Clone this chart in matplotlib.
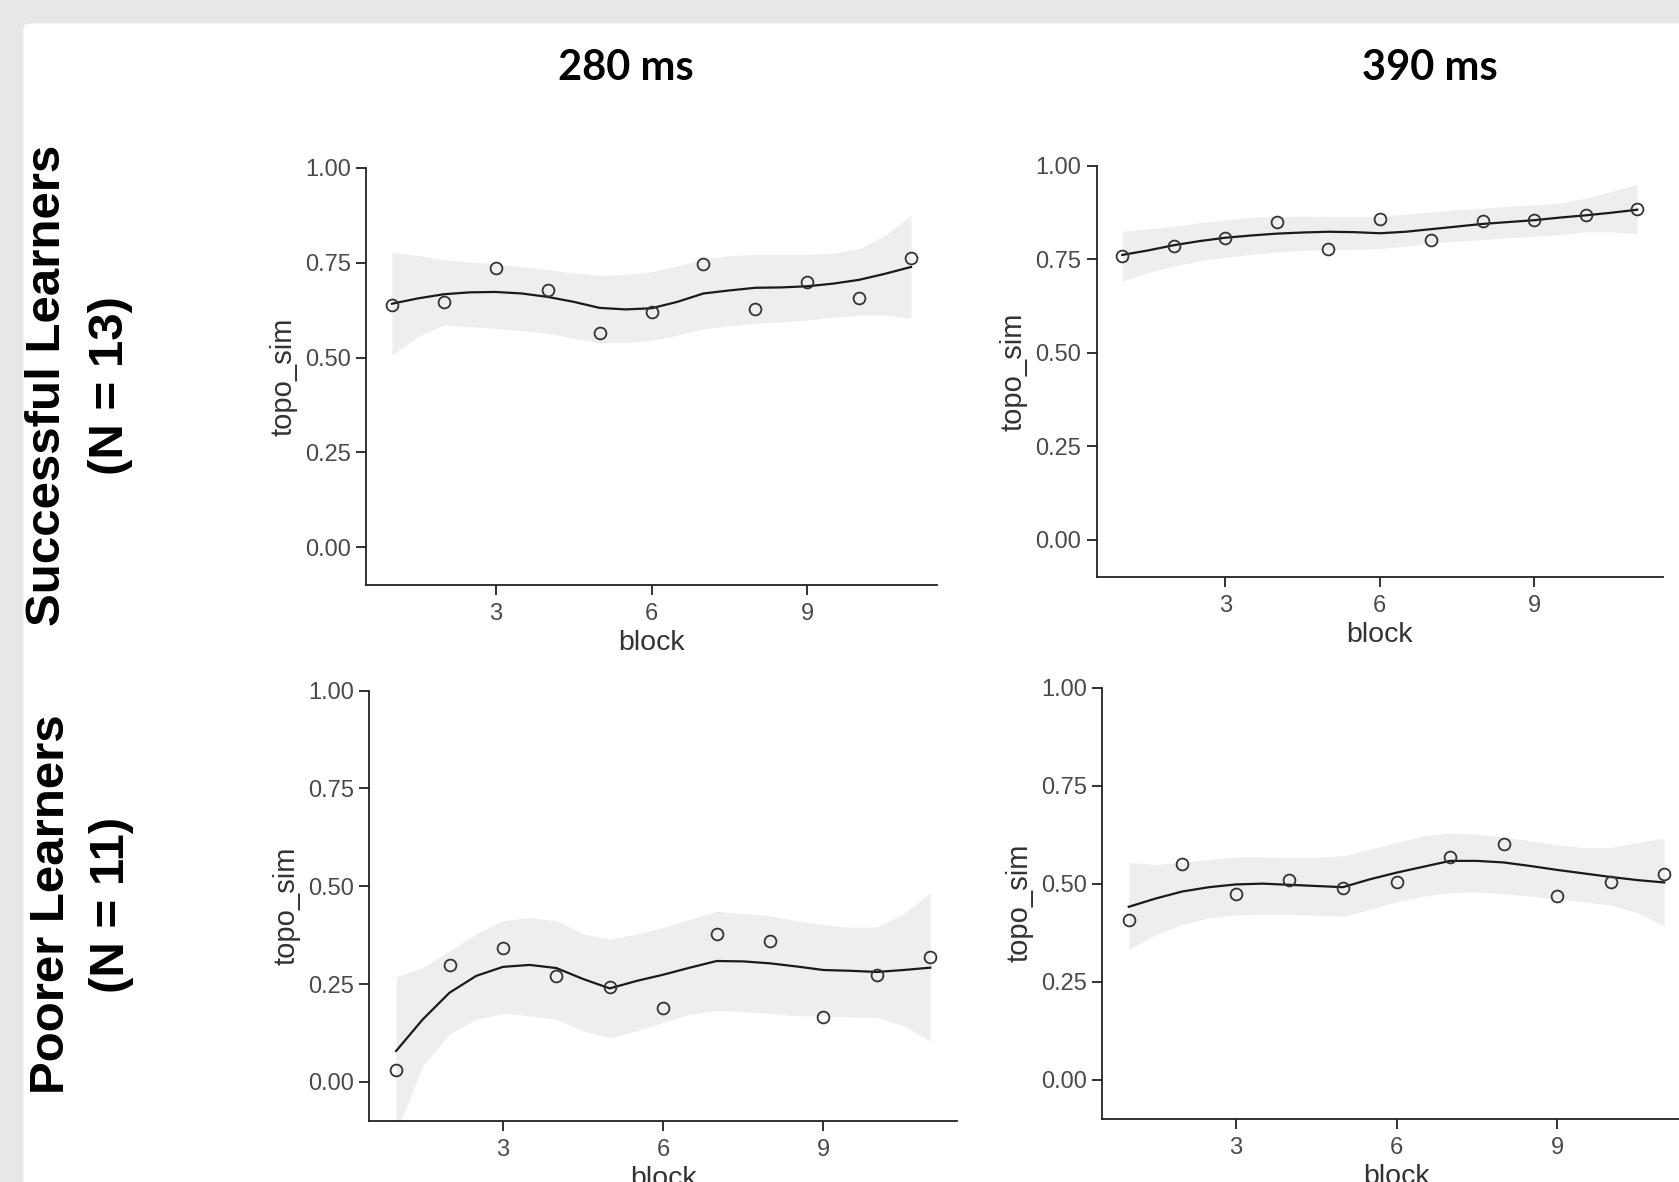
import numpy as np
import matplotlib
matplotlib.use('Agg')
import matplotlib.pyplot as plt
from matplotlib.patches import FancyBboxPatch

W, H = 1679, 1182
OUT_FILE = 'out.png'

blocks = [1, 2, 3, 4, 5, 6, 7, 8, 9, 10, 11]
fit_x = [1, 1.5, 2, 2.5, 3, 3.5, 4, 4.5, 5, 5.5, 6, 6.5, 7, 7.5, 8, 8.5, 9, 9.5, 10, 10.5, 11]

col_titles = ['280 ms', '390 ms']
row_titles = [('Successful Learners', '(N = 13)'), ('Poorer Learners', '(N = 11)')]
y_ticks = [0.0, 0.25, 0.5, 0.75, 1.0]
y_ticklabels = ['0.00', '0.25', '0.50', '0.75', '1.00']
x_ticks = [3, 6, 9]

# successful learners, 280 ms
succ_280_pts = [0.638, 0.646, 0.736, 0.678, 0.565, 0.619, 0.747, 0.628, 0.699, 0.658, 0.763]
succ_280_fit = [0.642, 0.656, 0.667, 0.672, 0.673, 0.669, 0.660, 0.647, 0.631, 0.627, 0.630,
                0.647, 0.669, 0.677, 0.684, 0.685, 0.688, 0.695, 0.705, 0.721, 0.739]
succ_280_hi = [0.778, 0.769, 0.758, 0.752, 0.747, 0.740, 0.732, 0.723, 0.717, 0.719, 0.726,
               0.742, 0.760, 0.769, 0.772, 0.772, 0.772, 0.775, 0.787, 0.822, 0.876]
succ_280_lo = [0.507, 0.555, 0.586, 0.581, 0.577, 0.571, 0.564, 0.551, 0.539, 0.539, 0.545,
               0.559, 0.575, 0.584, 0.590, 0.594, 0.599, 0.606, 0.612, 0.612, 0.603]

# successful learners, 390 ms
succ_390_pts = [0.759, 0.785, 0.806, 0.850, 0.777, 0.858, 0.802, 0.854, 0.855, 0.868, 0.885]
succ_390_fit = [0.762, 0.774, 0.788, 0.799, 0.808, 0.814, 0.819, 0.822, 0.824, 0.823, 0.820,
                0.824, 0.831, 0.838, 0.845, 0.850, 0.855, 0.862, 0.868, 0.875, 0.883]
succ_390_hi = [0.825, 0.832, 0.839, 0.848, 0.856, 0.863, 0.865, 0.866, 0.865, 0.865, 0.865,
               0.871, 0.877, 0.883, 0.887, 0.892, 0.896, 0.901, 0.914, 0.932, 0.951]
succ_390_lo = [0.692, 0.715, 0.732, 0.746, 0.756, 0.763, 0.770, 0.774, 0.777, 0.777, 0.779,
               0.785, 0.794, 0.799, 0.803, 0.808, 0.812, 0.816, 0.824, 0.824, 0.818]

# poorer learners, 280 ms
poor_280_pts = [0.030, 0.298, 0.342, 0.271, 0.243, 0.190, 0.379, 0.359, 0.166, 0.273, 0.318]
poor_280_fit = [0.079, 0.160, 0.228, 0.271, 0.294, 0.299, 0.291, 0.263, 0.239, 0.258, 0.274,
                0.292, 0.309, 0.308, 0.303, 0.295, 0.286, 0.284, 0.281, 0.286, 0.292]
poor_280_hi = [0.269, 0.292, 0.335, 0.378, 0.412, 0.420, 0.412, 0.378, 0.365, 0.378, 0.395,
               0.416, 0.436, 0.430, 0.425, 0.412, 0.402, 0.395, 0.396, 0.429, 0.483]
poor_280_lo = [-0.130, 0.041, 0.122, 0.160, 0.175, 0.169, 0.160, 0.130, 0.113, 0.130, 0.152,
               0.173, 0.182, 0.180, 0.175, 0.169, 0.169, 0.166, 0.165, 0.143, 0.105]

# poorer learners, 390 ms
poor_390_pts = [0.407, 0.549, 0.473, 0.509, 0.488, 0.504, 0.569, 0.601, 0.468, 0.503, 0.524]
poor_390_fit = [0.441, 0.462, 0.480, 0.491, 0.498, 0.500, 0.497, 0.494, 0.491, 0.511, 0.528,
                0.543, 0.558, 0.558, 0.554, 0.545, 0.535, 0.526, 0.517, 0.509, 0.503]
poor_390_hi = [0.554, 0.549, 0.554, 0.562, 0.568, 0.568, 0.567, 0.567, 0.571, 0.588, 0.605,
               0.622, 0.629, 0.626, 0.619, 0.609, 0.599, 0.592, 0.592, 0.605, 0.616]
poor_390_lo = [0.332, 0.370, 0.396, 0.413, 0.420, 0.422, 0.422, 0.419, 0.417, 0.434, 0.454,
               0.468, 0.477, 0.479, 0.474, 0.468, 0.460, 0.454, 0.445, 0.426, 0.392]

# pixel boxes: left, right, top (y = 1.0), bottom (axis line)
panels = [
    ((366, 937, 168, 585), succ_280_pts, succ_280_fit, succ_280_lo, succ_280_hi),
    ((1096.5, 1663, 166, 577), succ_390_pts, succ_390_fit, succ_390_lo, succ_390_hi),
    ((369.4, 957, 690.7, 1121), poor_280_pts, poor_280_fit, poor_280_lo, poor_280_hi),
    ((1102, 1691, 687.5, 1119), poor_390_pts, poor_390_fit, poor_390_lo, poor_390_hi),
]

Y_MIN = -0.1
TEXT_GREY = '#4a4a4a'
BAND = '#eeeeee'

plt.rcParams['font.family'] = ['Liberation Sans', 'DejaVu Sans']

fig = plt.figure(figsize=(W / 100, H / 100), dpi=100, facecolor='#e8e8e8')

# white card on grey page
card = FancyBboxPatch((23.5 / W, -0.05), 1.1, 1 - 23.5 / H + 0.05,
                      boxstyle='round,pad=0,rounding_size=0.004',
                      transform=fig.transFigure, facecolor='white',
                      edgecolor='none', zorder=-10)
fig.patches.append(card)


def add_panel(box, pts, fit, lo, hi):
    left, right, top, bottom = box
    # axes top is y = 1.0, bottom spine sits at Y_MIN
    ax = fig.add_axes([left / W, 1 - bottom / H, (right - left) / W, (bottom - top) / H])
    ax.set_facecolor('none')
    ax.set_xlim(0.5, 11.5)
    ax.set_ylim(Y_MIN, 1.0)

    ax.fill_between(fit_x, lo, hi, color=BAND, linewidth=0, zorder=1)
    ax.plot(fit_x, fit, color='#1a1a1a', lw=1.6, zorder=2)
    ax.plot(blocks, pts, linestyle='none', marker='o', markersize=8.5,
            markerfacecolor='none', markeredgecolor='#333333', markeredgewidth=1.3, zorder=3)

    for side in ['top', 'right']:
        ax.spines[side].set_visible(False)
    for side in ['left', 'bottom']:
        ax.spines[side].set_linewidth(1.3)
        ax.spines[side].set_color('#222222')

    ax.set_yticks(y_ticks)
    ax.set_yticklabels(y_ticklabels)
    ax.set_xticks(x_ticks)
    ax.tick_params(axis='both', length=7, width=1.3, color='#222222',
                   labelsize=17, labelcolor=TEXT_GREY)
    ax.tick_params(axis='x', pad=6)
    ax.tick_params(axis='y', pad=4)

    ax.set_xlabel('block', fontsize=20.5, color='#333333', va='center')
    ax.set_ylabel('topo_sim', fontsize=21, color='#333333', va='center')
    h = bottom - top
    w = right - left
    ax.xaxis.set_label_coords(0.5, -58 / h)
    ax.yaxis.set_label_coords(-83 / w, 0.5)
    return ax


for p in panels:
    add_panel(*p)

title_y = 1 - 68 / H
for x_px, t in zip([626, 1429.5], col_titles):
    fig.text(x_px / W, title_y, t, ha='center', va='center',
             fontsize=30, fontweight='bold', family=['Lato', 'DejaVu Sans'])

row_pos = [(48, 111, 385.5), (52, 112, 904.5)]
for (x1, x2, y), (line1, line2) in zip(row_pos, row_titles):
    fig.text(x1 / W, 1 - y / H, line1, rotation=90, ha='center', va='center',
             fontsize=35.5, fontweight='bold')
    fig.text(x2 / W, 1 - y / H, line2, rotation=90, ha='center', va='center',
             fontsize=35.5, fontweight='bold')

fig.savefig(OUT_FILE, dpi=100, facecolor=fig.get_facecolor())
